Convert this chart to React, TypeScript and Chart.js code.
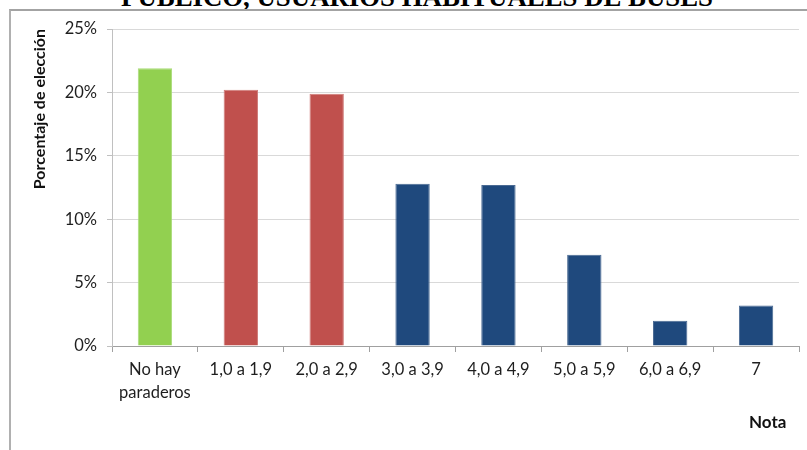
import React, { useEffect, useRef } from "react";
import { Chart, registerables } from "chart.js";

Chart.register(...registerables);

const titleText = "PÚBLICO, USUARIOS HABITUALES DE BUSES";
const categories: (string | string[])[] = [
  ["No hay", "paraderos"],
  "1,0 a 1,9",
  "2,0 a 2,9",
  "3,0 a 3,9",
  "4,0 a 4,9",
  "5,0 a 5,9",
  "6,0 a 6,9",
  "7",
];
const values = [21.9, 20.2, 19.9, 12.8, 12.7, 7.2, 2.0, 3.2];
const barColors = ["#92D050", "#C0504D", "#C0504D", "#1F497D", "#1F497D", "#1F497D", "#1F497D", "#1F497D"];
const barBorders = ["#a9db78", "#cf7b78", "#cf7b78", "#4a6a93", "#4a6a93", "#4a6a93", "#4a6a93", "#4a6a93"];
const yTicks = [0, 5, 10, 15, 20, 25];
const yTitle = "Porcentaje de elección";
const xTitle = "Nota";

export default function App() {
  const ref = useRef<HTMLCanvasElement | null>(null);

  useEffect(() => {
    if (!ref.current) return;
    const chart = new Chart(ref.current, {
      type: "bar",
      data: {
        labels: categories,
        datasets: [
          {
            data: values,
            backgroundColor: barColors,
            borderColor: barBorders,
            borderWidth: 1,
            barPercentage: 0.4,
            categoryPercentage: 1,
          },
        ],
      },
      options: {
        animation: false,
        responsive: false,
        layout: { padding: { top: 29, right: 8, left: 0, bottom: 0 } },
        plugins: { legend: { display: false }, tooltip: { enabled: false }, title: { display: false } },
        scales: {
          x: {
            afterFit: (s: any) => {
              s.height = 104;
            },
            grid: {
              drawOnChartArea: false,
              drawTicks: true,
              tickLength: 6,
              tickColor: "#a0a0a0",
              offset: true,
            },
            border: { display: true, color: "#a0a0a0", width: 1 },
            ticks: {
              color: "#1e1e1e",
              padding: 6,
              maxRotation: 0,
              autoSkip: false,
              font: { family: "Lato", size: 16.5, lineHeight: 1.42 },
            },
          },
          y: {
            min: 0,
            max: 25,
            afterFit: (s: any) => {
              s.width = 112;
            },
            afterBuildTicks: (s: any) => {
              s.ticks = yTicks.map((v) => ({ value: v }));
            },
            grid: {
              color: "#d9d9d9",
              tickColor: "#c0c0c0",
              tickLength: 5,
            },
            border: { display: true, color: "#c0c0c0", width: 1 },
            ticks: {
              color: "#1e1e1e",
              padding: 10,
              font: { family: "Lato", size: 16.5 },
              callback: (v: any) => v + "%",
            },
            title: {
              display: true,
              text: yTitle,
              align: "end",
              color: "#111",
              padding: { top: 30, bottom: 0 },
              font: { family: "Lato", size: 16, weight: "bold", lineHeight: 1.2 },
            },
          },
        },
      },
    });
    return () => chart.destroy();
  }, []);

  return (
    <div style={{ position: "fixed", left: 0, top: 0, width: 807, height: 450, overflow: "hidden", background: "#fff" }}>
      <div
        style={{
          position: "absolute",
          left: 0,
          top: -16,
          width: 834,
          textAlign: "center",
          font: "bold 26.8px 'Liberation Serif'",
          lineHeight: "27px",
          whiteSpace: "nowrap",
          color: "#000",
        }}
      >
        {titleText}
      </div>
      <div
        style={{
          position: "absolute",
          left: 9,
          top: 9,
          width: 820,
          height: 460,
          borderTop: "2px solid #a3a3a3",
          borderLeft: "2px solid #b0b0b0",
          boxSizing: "border-box",
        }}
      />
      <canvas ref={ref} width={807} height={450} style={{ position: "absolute", left: 0, top: 0 }} />
      <div
        style={{
          position: "absolute",
          left: 749,
          top: 412,
          font: "bold 17px Lato",
          lineHeight: "20px",
          color: "#111",
        }}
      >
        {xTitle}
      </div>
    </div>
  );
}
